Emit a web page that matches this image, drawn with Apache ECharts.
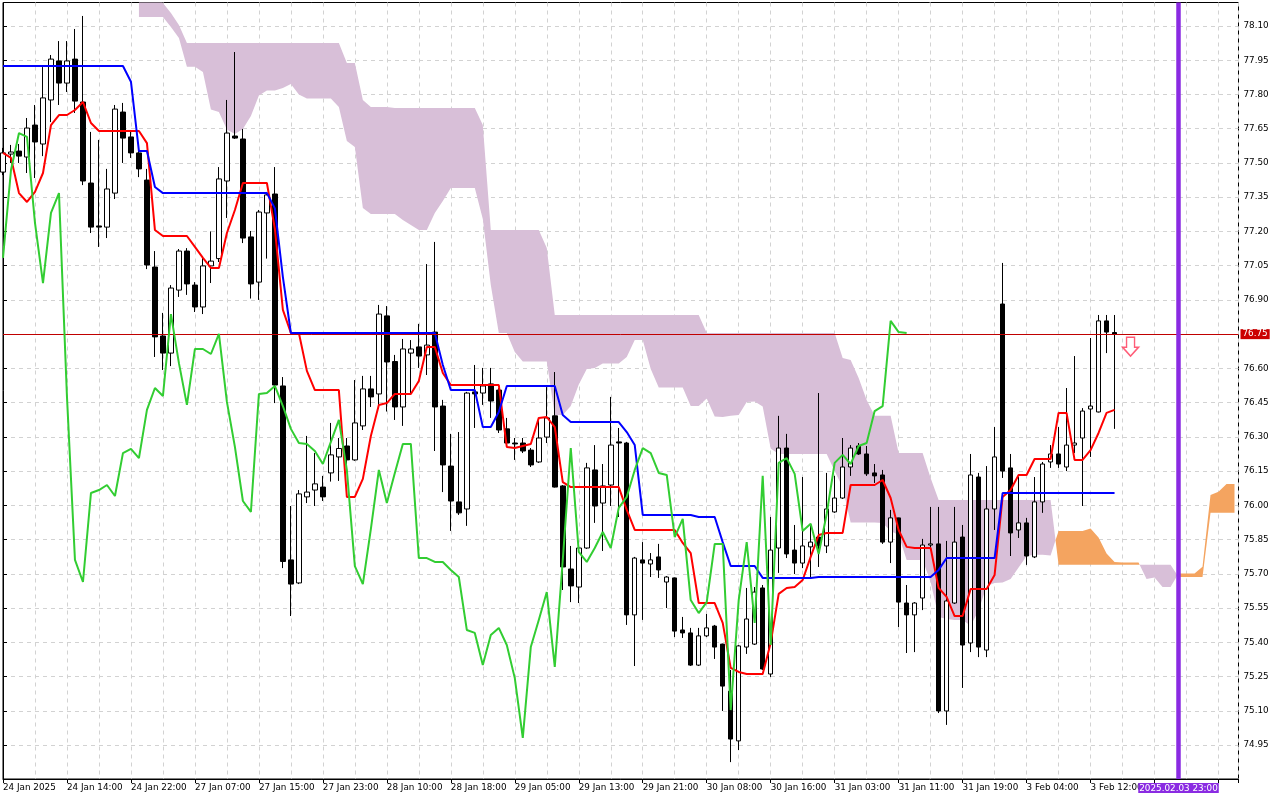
<!DOCTYPE html>
<html>
<head>
<meta charset="utf-8">
<script src="https://cdn.jsdelivr.net/npm/echarts@6/dist/echarts.min.js"></script>
<style>
html,body{margin:0;padding:0;background:#ffffff;}
#chart{width:1280px;height:800px;}
</style>
</head>
<body>
<div id="chart"></div>
<script>
// ---- time axis labels (one every 8 hourly bars, starting at bar 0)
const xTickLabels = ['24 Jan 2025','24 Jan 14:00','24 Jan 22:00','27 Jan 07:00','27 Jan 15:00','27 Jan 23:00',
  '28 Jan 10:00','28 Jan 18:00','29 Jan 05:00','29 Jan 13:00','29 Jan 21:00','30 Jan 08:00','30 Jan 16:00',
  '31 Jan 03:00','31 Jan 11:00','31 Jan 19:00','3 Feb 04:00','3 Feb 12:00'];

// ---- price axis labels
const priceTicks = [78.10,77.95,77.80,77.65,77.50,77.35,77.20,77.05,76.90,76.75,76.60,76.45,76.30,76.15,
  76.00,75.85,75.70,75.55,75.40,75.25,75.10,74.95];

// ---- H1 candles (bar 0 .. 139)
const opens = [77.460,77.539,77.552,77.526,77.666,77.583,77.776,77.947,77.850,77.955,
 77.767,77.412,77.224,77.219,77.368,77.723,77.614,77.544,77.425,77.044,
 76.742,76.667,76.943,77.114,76.965,76.869,77.049,77.081,77.421,77.618,
 77.605,77.176,76.978,77.281,77.364,76.523,75.761,75.660,76.037,76.067,
 76.080,76.142,76.212,76.260,76.199,76.348,76.510,76.488,76.830,76.630,
 76.431,76.667,76.694,76.659,76.759,76.435,76.172,76.015,75.984,76.497,
 76.492,76.532,76.505,76.335,76.273,76.273,76.242,76.190,76.299,76.392,
 76.085,75.721,75.642,75.813,76.155,76.010,76.089,76.278,76.273,75.520,
 75.761,75.743,75.774,75.664,75.682,75.454,75.441,75.300,75.428,75.471,
 75.392,75.186,74.968,75.379,75.392,75.638,75.261,75.813,76.251,75.804,
 75.747,75.818,75.861,75.822,75.971,76.032,76.168,76.260,76.225,76.142,
 76.133,75.839,75.945,75.572,75.520,75.594,75.826,75.831,75.099,75.572,
 75.861,75.397,76.124,75.366,75.984,76.882,76.164,75.892,75.923,75.774,
 76.015,76.190,76.225,76.168,76.264,76.295,76.422,76.409,76.808,76.757];
const highs = [77.566,77.579,77.583,77.697,77.754,77.920,77.973,78.034,78.034,78.087,
 78.144,77.636,77.601,77.474,77.754,77.763,77.636,77.557,77.474,77.114,
 76.843,76.965,77.123,77.127,76.978,77.088,77.200,77.482,77.776,77.986,
 77.649,77.202,77.294,77.373,77.482,76.562,75.997,76.067,76.304,76.229,
 76.129,76.361,76.295,76.295,76.549,76.567,76.567,76.878,76.873,76.659,
 76.729,76.724,76.795,77.057,77.154,76.462,76.313,76.321,76.497,76.615,
 76.602,76.602,76.514,76.383,76.295,76.295,76.251,76.383,76.518,76.584,
 76.089,75.822,75.839,76.186,76.264,76.181,76.475,76.339,76.278,75.774,
 75.839,75.791,75.831,75.690,75.684,75.511,75.463,75.463,75.524,75.476,
 75.394,75.279,75.388,75.638,75.642,75.651,75.949,76.392,76.313,75.914,
 76.124,75.914,76.492,76.142,76.129,76.295,76.264,76.273,76.260,76.181,
 76.155,75.980,75.946,75.651,75.576,75.853,75.993,75.993,75.844,75.993,
 75.914,76.225,76.142,76.172,76.343,77.062,76.225,76.124,75.945,76.124,
 76.190,76.264,76.343,76.514,76.654,76.426,76.733,76.834,76.834,76.834];
const lows = [77.447,77.500,77.500,77.456,77.434,77.530,77.679,77.754,77.811,77.719,
 77.403,77.193,77.132,77.171,77.342,77.500,77.522,77.438,77.035,76.650,
 76.593,76.610,76.913,76.922,76.847,76.838,76.974,77.066,77.259,77.605,
 77.149,76.906,76.900,77.081,76.448,75.725,75.515,75.655,76.010,75.997,
 76.019,76.104,76.107,76.155,76.195,76.330,76.431,76.440,76.411,76.374,
 76.348,76.488,76.602,76.571,76.238,76.058,75.888,75.958,75.910,76.339,
 76.440,76.383,76.317,76.269,76.199,76.229,76.168,76.186,76.273,76.078,
 75.629,75.576,75.572,75.809,75.923,75.800,75.997,75.949,75.476,75.296,
 75.498,75.686,75.682,75.550,75.423,75.419,75.296,75.296,75.423,75.327,
 75.099,74.875,74.928,75.349,75.388,75.279,75.248,75.704,75.769,75.699,
 75.725,75.682,75.730,75.791,75.967,76.028,76.129,76.221,76.129,76.098,
 75.831,75.747,75.467,75.353,75.357,75.541,75.804,75.090,75.038,75.568,
 75.200,75.357,75.335,75.335,75.892,76.120,75.778,75.857,75.739,75.769,
 75.967,76.164,76.164,76.150,76.229,75.997,76.212,76.407,76.667,76.335];
const closes = [77.544,77.548,77.530,77.653,77.592,77.785,77.955,77.850,77.947,77.771,
 77.421,77.219,77.219,77.386,77.736,77.609,77.544,77.474,77.053,76.738,
 76.667,76.952,77.114,76.970,76.869,77.049,77.070,77.430,77.631,77.609,
 77.171,76.970,77.285,77.360,76.527,75.754,75.655,76.050,76.058,76.094,
 76.037,76.221,76.249,76.199,76.361,76.510,76.475,76.838,76.628,76.431,
 76.685,76.685,76.654,76.702,76.431,76.177,76.019,75.967,76.492,76.488,
 76.523,76.457,76.330,76.273,76.269,76.238,76.177,76.295,76.383,76.080,
 75.730,75.647,75.813,76.164,75.997,76.085,76.264,76.273,75.520,75.769,
 75.747,75.761,75.717,75.686,75.449,75.441,75.300,75.428,75.463,75.379,
 75.208,74.976,75.384,75.502,75.620,75.283,75.804,76.251,75.787,75.747,
 75.822,75.839,75.822,75.984,76.032,76.168,76.251,76.225,76.138,76.129,
 75.839,75.945,75.576,75.520,75.572,75.826,75.831,75.099,75.581,75.839,
 75.388,76.133,75.379,75.984,76.212,76.150,75.879,75.923,75.778,76.015,
 76.181,76.225,76.181,76.264,76.273,76.413,76.435,76.808,76.759,76.750];

// ---- Ichimoku lines
const tenkan = [77.544,77.522,77.368,77.329,77.373,77.456,77.666,77.710,77.710,77.732,
 77.767,77.675,77.640,77.640,77.640,77.640,77.640,77.640,77.587,77.206,
 77.180,77.180,77.180,77.180,77.132,77.084,77.040,77.040,77.193,77.294,
 77.412,77.412,77.412,77.412,77.211,76.856,76.755,76.755,76.589,76.505,
 76.505,76.505,76.505,76.037,76.037,76.116,76.304,76.440,76.448,76.488,
 76.488,76.488,76.545,76.694,76.694,76.580,76.527,76.527,76.527,76.527,
 76.527,76.527,76.527,76.256,76.251,76.260,76.269,76.383,76.387,76.343,
 76.102,76.080,76.080,76.080,76.080,76.080,76.080,76.080,75.980,75.892,
 75.892,75.892,75.892,75.892,75.892,75.835,75.791,75.572,75.572,75.572,
 75.485,75.288,75.270,75.261,75.261,75.261,75.397,75.612,75.638,75.642,
 75.673,75.774,75.870,75.879,75.879,75.879,76.089,76.089,76.089,76.089,
 76.111,76.032,75.892,75.818,75.813,75.813,75.813,75.638,75.599,75.515,
 75.515,75.633,75.633,75.633,75.695,76.037,76.067,76.133,76.133,76.203,
 76.203,76.203,76.405,76.405,76.199,76.199,76.242,76.317,76.405,76.418];
const kijun = [77.925,77.925,77.925,77.925,77.925,77.925,77.925,77.925,77.925,77.925,
 77.925,77.925,77.925,77.925,77.925,77.925,77.856,77.552,77.552,77.395,
 77.368,77.368,77.368,77.368,77.368,77.368,77.368,77.368,77.368,77.368,
 77.368,77.368,77.368,77.368,77.301,77.000,76.755,76.755,76.755,76.755,
 76.755,76.755,76.755,76.755,76.755,76.755,76.755,76.755,76.755,76.755,
 76.755,76.755,76.755,76.755,76.755,76.615,76.505,76.505,76.505,76.505,
 76.343,76.343,76.409,76.523,76.523,76.523,76.523,76.523,76.523,76.523,
 76.396,76.365,76.365,76.365,76.365,76.365,76.365,76.365,76.321,76.264,
 75.958,75.958,75.958,75.958,75.958,75.958,75.958,75.949,75.949,75.949,
 75.839,75.734,75.734,75.734,75.734,75.682,75.682,75.682,75.682,75.682,
 75.682,75.682,75.686,75.686,75.686,75.686,75.686,75.686,75.686,75.686,
 75.686,75.686,75.686,75.686,75.686,75.686,75.686,75.717,75.769,75.769,
 75.769,75.769,75.769,75.769,75.769,76.054,76.054,76.054,76.054,76.054,
 76.054,76.054,76.054,76.054,76.054,76.054,76.054,76.054,76.054,76.054];
// lagging span (bar 0 .. 113)
const chikou = [77.084,77.469,77.631,77.614,77.237,76.974,77.281,77.368,76.475,75.761,
 75.664,76.054,76.067,76.089,76.041,76.229,76.247,76.207,76.418,76.514,
 76.479,76.838,76.623,76.440,76.685,76.685,76.663,76.751,76.453,76.256,
 76.019,75.971,76.488,76.492,76.523,76.435,76.335,76.273,76.269,76.238,
 76.181,76.278,76.374,76.155,75.734,75.655,75.896,76.155,76.010,76.142,
 76.269,76.269,75.769,75.769,75.752,75.752,75.717,75.686,75.454,75.441,
 75.300,75.432,75.463,75.388,75.243,74.981,75.379,75.498,75.620,75.292,
 75.761,76.251,75.796,75.752,75.813,75.883,75.813,75.989,76.037,76.155,
 76.251,76.229,76.142,76.133,75.861,75.941,75.585,75.528,75.576,75.831,
 75.831,75.103,75.585,75.839,75.485,76.129,75.388,76.186,76.207,76.138,
 75.888,75.919,75.787,75.962,76.186,76.221,76.181,76.260,76.273,76.413,
 76.435,76.808,76.759,76.755];
// leading spans (bar 0 .. 154), null where the cloud is above the visible range
const spanA = [null,null,null,null,null,null,null,null,null,null,
 null,null,null,null,null,null,null,78.139,78.139,78.139,
 78.139,78.096,78.047,77.922,77.922,77.899,77.734,77.723,77.647,77.627,
 77.649,77.706,77.796,77.817,77.817,77.828,77.846,77.800,77.782,77.782,
 77.782,77.782,77.745,77.596,77.570,77.303,77.276,77.276,77.276,77.276,
 77.250,77.228,77.206,77.206,77.281,77.333,77.390,77.390,77.390,77.390,
 77.254,76.965,76.755,76.755,76.672,76.630,76.630,76.630,76.630,76.396,
 76.396,76.435,76.529,76.597,76.602,76.621,76.621,76.621,76.650,76.724,
 76.724,76.597,76.516,76.516,76.516,76.516,76.435,76.435,76.468,76.389,
 76.387,76.392,76.396,76.453,76.455,76.433,76.249,76.225,76.225,76.225,
 76.225,76.225,76.225,76.225,76.150,76.078,75.925,75.925,75.925,75.925,
 75.923,75.888,75.870,75.761,75.761,75.761,75.664,75.511,75.502,75.498,
 75.498,75.472,75.539,75.647,75.660,75.662,75.677,75.728,75.778,75.783,
 75.783,75.780,75.888,75.888,75.888,75.888,75.898,75.859,75.789,75.752,
 75.750,75.750,75.750,75.677,75.684,75.642,75.642,75.701,75.701,75.701,
 75.731,76.045,76.060,76.093,76.093];
const spanB = [null,null,null,null,null,null,null,null,null,null,
 null,null,null,null,null,null,null,78.280,78.280,78.280,
 78.201,78.157,78.104,78.026,78.026,78.026,78.026,78.026,78.026,78.026,
 78.026,78.026,78.026,78.026,78.026,78.026,78.026,78.026,78.026,78.026,
 78.026,78.026,78.026,77.938,77.938,77.776,77.745,77.745,77.745,77.741,
 77.741,77.741,77.741,77.741,77.741,77.741,77.741,77.741,77.741,77.741,
 77.666,77.206,77.206,77.206,77.206,77.206,77.206,77.206,77.127,76.834,
 76.834,76.834,76.834,76.834,76.834,76.834,76.834,76.834,76.834,76.834,
 76.834,76.834,76.834,76.834,76.834,76.834,76.834,76.834,76.755,76.755,
 76.755,76.755,76.755,76.755,76.755,76.755,76.755,76.755,76.755,76.755,
 76.755,76.755,76.755,76.755,76.755,76.645,76.637,76.558,76.462,76.392,
 76.392,76.392,76.229,76.229,76.229,76.229,76.120,76.023,76.023,76.023,
 76.023,76.023,76.023,76.023,76.023,76.023,76.023,76.023,76.023,76.023,
 76.023,76.023,75.740,75.740,75.740,75.740,75.740,75.740,75.740,75.740,
 75.740,75.740,75.740,75.740,75.740,75.740,75.740,75.686,75.686,75.686,
 75.686,75.967,75.967,75.967,75.967];

const lastPrice = 76.75;
const markerBar = 147;
const markerLabel = '2025.02.03 23:00';
const signalArrow = [141, 76.695];

// ---------------------------------------------------------------
const FONT = 'DejaVu Sans';
const FS = 8.8;
const candleData = opens.map((o, i) => [i, o, closes[i], lows[i], highs[i]]);
const toXY = arr => arr.map((v, i) => [i, v]);

// group the cloud into runs of one colour (A above B = sandybrown, else thistle),
// splitting each bar-to-bar step where the two spans cross
const CLOUD_UP = '#f4a460';
const CLOUD_DN = '#d8bfd8';
const cloudRuns = [];
(function buildRuns() {
  let cur = null;
  for (let i = 0; i < spanA.length - 1; i++) {
    const a0 = spanA[i], b0 = spanB[i], a1 = spanA[i + 1], b1 = spanB[i + 1];
    if (a0 == null || b0 == null || a1 == null || b1 == null) { cur = null; continue; }
    const d0 = a0 - b0, d1 = a1 - b1;
    const segs = [];
    if (d0 * d1 >= 0) {
      segs.push({ up: (d0 + d1) > 0, p0: [i, a0, b0], p1: [i + 1, a1, b1] });
    } else {
      const t = d0 / (d0 - d1);
      const xc = i + t, vc = a0 + t * (a1 - a0);
      segs.push({ up: d0 > 0, p0: [i, a0, b0], p1: [xc, vc, vc] });
      segs.push({ up: d1 > 0, p0: [xc, vc, vc], p1: [i + 1, a1, b1] });
    }
    for (const s of segs) {
      if (cur && cur.up === s.up) cur.pts.push(s.p1);
      else { cur = { up: s.up, pts: [s.p0, s.p1] }; cloudRuns.push(cur); }
    }
  }
})();
const cloudData = cloudRuns.map(r => {
  const xs = r.pts.map(p => p[0]);
  const vs = r.pts.map(p => Math.min(p[1], p[2])).concat(r.pts.map(p => Math.max(p[1], p[2])));
  return [Math.min(...xs), Math.max(...xs), Math.min(...vs), Math.max(...vs)];
});
function renderCloud(params, api) {
  const run = cloudRuns[params.dataIndex];
  const upper = run.pts.map(p => api.coord([p[0], p[1]]));
  const lower = run.pts.slice().reverse().map(p => api.coord([p[0], p[2]]));
  const c = run.up ? CLOUD_UP : CLOUD_DN;
  return { type: 'polygon', shape: { points: upper.concat(lower) }, style: { fill: c } };
}

const gridColor = '#d2d2d2';
const chart = echarts.init(document.getElementById('chart'), null, { renderer: 'canvas' });
chart.setOption({
  animation: false,
  backgroundColor: '#ffffff',
  grid: { left: 2.5, right: 41.5, top: 2.5, bottom: 21, show: true, borderColor: '#000000', borderWidth: 1, backgroundColor: '#ffffff' },
  xAxis: {
    type: 'value', min: 0, max: 154.5, interval: 8,
    axisLine: { show: true, onZero: false, lineStyle: { color: '#000000', width: 1 } },
    axisTick: { show: true, length: 4, lineStyle: { color: '#000000' } },
    axisLabel: {
      formatter: v => (Number.isInteger(v / 8) && xTickLabels[v / 8]) ? xTickLabels[v / 8] : '',
      align: 'left', color: '#000000', fontFamily: FONT, fontSize: FS, margin: 4,
      showMinLabel: true, showMaxLabel: true
    },
    splitLine: { show: true, lineStyle: { color: gridColor, type: [4, 4], width: 1 } },
    minorTick: { show: false, splitNumber: 2 },
    minorSplitLine: { show: true, lineStyle: { color: gridColor, type: [4, 4], width: 1 } }
  },
  yAxis: {
    type: 'value', position: 'right', min: 74.801, max: 78.203, scale: true,
    axisLine: { show: true, lineStyle: { color: '#000000', width: 1 } },
    axisTick: { show: true, length: 4, lineStyle: { color: '#000000' }, customValues: priceTicks },
    axisLabel: { customValues: priceTicks, formatter: v => v.toFixed(2), color: '#000000', fontFamily: FONT, fontSize: FS, margin: 5 },
    splitLine: { show: true, lineStyle: { color: gridColor, type: [4, 4], width: 1 } }
  },
  series: [
    {
      name: 'Cloud', type: 'custom', renderItem: renderCloud, data: cloudData,
      encode: { x: [0, 1], y: [2, 3] }, clip: true, z: 1, silent: true
    },
    {
      name: 'Price', type: 'candlestick', data: candleData, encode: { x: 0, y: [1, 2, 3, 4] },
      barWidth: 5, clip: true, z: 2, silent: true,
      itemStyle: { color: '#ffffff', color0: '#000000', borderColor: '#000000', borderColor0: '#000000', borderWidth: 1 }
    },
    {
      name: 'Tenkan-sen', type: 'line', data: toXY(tenkan), symbol: 'none', clip: true, z: 3, silent: true,
      lineStyle: { color: '#ff0000', width: 2 }
    },
    {
      name: 'Kijun-sen', type: 'line', data: toXY(kijun), symbol: 'none', clip: true, z: 4, silent: true,
      lineStyle: { color: '#0000ff', width: 2 }
    },
    {
      name: 'Chikou Span', type: 'line', data: toXY(chikou), symbol: 'none', clip: true, z: 5, silent: true,
      lineStyle: { color: '#32cd32', width: 2 }
    },
    {
      name: 'Markers', type: 'line', data: [], symbol: 'none', clip: false, z: 6, silent: true,
      markLine: {
        silent: true, symbol: ['none', 'none'], animation: false,
        data: [
          {
            yAxis: lastPrice,
            lineStyle: { color: '#c00000', width: 1, type: 'solid' },
            label: { show: true, position: 'end', distance: 2, formatter: lastPrice.toFixed(2),
              color: '#ffffff', backgroundColor: '#cc0000', padding: [1, 2, 0, 2], fontFamily: FONT, fontSize: FS }
          },
          {
            xAxis: markerBar,
            lineStyle: { color: '#8a2be2', width: 4.5, type: 'solid' },
            label: { show: true, position: 'start', distance: 4, formatter: markerLabel,
              color: '#ffffff', backgroundColor: '#8a2be2', padding: [1, 1, 0, 1], fontFamily: FONT, fontSize: FS }
          }
        ]
      }
    },
    {
      name: 'Signal', type: 'scatter', data: [signalArrow], z: 7, silent: true,
      symbol: 'path://M4,0L12,0L12,10L16,10L8,19L0,10L4,10Z', symbolSize: [16, 19],
      itemStyle: { color: '#ffffff', borderColor: '#ff3355', borderWidth: 1.5 }
    }
  ]
});
</script>
</body>
</html>
